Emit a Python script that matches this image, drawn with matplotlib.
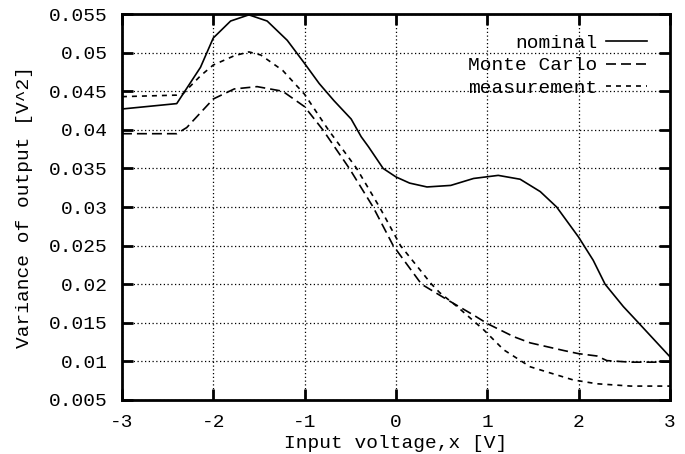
import matplotlib
matplotlib.use("Agg")
from matplotlib import pyplot as plt
from matplotlib.ticker import FixedLocator, FuncFormatter

# values
nom_x = [-3.0, -2.4, -2.14, -2.0, -1.81, -1.61, -1.41, -1.19, -1.0, -0.84, -0.68, -0.49,
         -0.38, -0.3, -0.14, 0.0, 0.15, 0.34, 0.6, 0.85, 1.12, 1.36, 1.58, 1.76, 2.0,
         2.16, 2.29, 2.49, 2.64, 3.0]
nom_y = [0.0427, 0.0434, 0.0481, 0.0519, 0.0541, 0.0549, 0.0541, 0.0516, 0.0486, 0.0460,
         0.0438, 0.0414, 0.0391, 0.0378, 0.0350, 0.0339, 0.0331, 0.0326, 0.0328, 0.0337,
         0.0341, 0.0336, 0.0320, 0.0300, 0.0261, 0.0231, 0.0200, 0.0171, 0.0152, 0.0106]

mc_x = [-3.0, -2.4, -2.29, -2.0, -1.77, -1.52, -1.24, -1.0, -0.8, -0.51, -0.25, -0.03,
        0.28, 0.56, 0.85, 1.0, 1.29, 1.47, 1.84, 2.0, 2.2, 2.31, 2.57, 3.0]
mc_y = [0.0395, 0.0395, 0.0403, 0.0440, 0.0453, 0.0456, 0.0450, 0.0430, 0.0400, 0.0350,
        0.0300, 0.0250, 0.0200, 0.0180, 0.0160, 0.0149, 0.0132, 0.0124, 0.0114, 0.0110,
        0.0107, 0.0101, 0.0099, 0.0099]

meas_x = [-3.0, -2.4, -2.33, -2.14, -2.0, -1.77, -1.61, -1.48, -1.24, -1.0, -0.74, -0.43,
          -0.18, 0.05, 0.39, 0.48, 0.67, 0.96, 1.18, 1.47, 1.69, 1.94, 2.2, 2.57, 3.0]
meas_y = [0.0443, 0.0445, 0.0447, 0.0470, 0.0484, 0.0496, 0.0501, 0.0497, 0.0477, 0.0446,
          0.0400, 0.0350, 0.0300, 0.0250, 0.0200, 0.0189, 0.0171, 0.0141, 0.0115, 0.0093,
          0.0085, 0.0076, 0.0071, 0.0068, 0.0068]

x_ticks = [-3, -2, -1, 0, 1, 2, 3]
y_ticks = [0.005, 0.01, 0.015, 0.02, 0.025, 0.03, 0.035, 0.04, 0.045, 0.05, 0.055]

plt.rcParams["font.family"] = ["Liberation Mono", "DejaVu Sans Mono"]
plt.rcParams["font.size"] = 14

fig = plt.figure(figsize=(6.85, 4.54), dpi=100)
ax = fig.add_axes([0.178, 0.119, 0.8, 0.85])

ax.plot(nom_x, nom_y, color="black", lw=1.2, label="nominal")
ax.plot(mc_x, mc_y, color="black", lw=1.2, dashes=(6, 3), label="Monte Carlo")
ax.plot(meas_x, meas_y, color="black", lw=1.2, dashes=(3, 3), label="measurement")

ax.set_xlim(-3, 3)
ax.set_ylim(0.005, 0.055)
ax.xaxis.set_major_locator(FixedLocator(x_ticks))
ax.yaxis.set_major_locator(FixedLocator(y_ticks))
ax.xaxis.set_major_formatter(FuncFormatter(lambda v, pos: "%g" % v))
ax.yaxis.set_major_formatter(FuncFormatter(lambda v, pos: "%g" % v))
ax.tick_params(direction="in", length=8, width=2, top=True, right=True)
ax.tick_params(axis="y", pad=10)
ax.tick_params(axis="x", pad=10)
ax.grid(color="black", linestyle=(0, (1, 2)), lw=0.9)
for s in ax.spines.values():
    s.set_linewidth(2)

ax.set_xlabel("Input voltage,x [V]", labelpad=3)
ax.set_ylabel("Variance of output [V^2]", labelpad=12)

ax.legend(loc="upper right", frameon=False, markerfirst=False, handlelength=2.1,
          handletextpad=0.45, labelspacing=0.24, borderaxespad=0, borderpad=0,
          bbox_to_anchor=(0.958, 0.947))

fig.savefig("out.png", dpi=100)
